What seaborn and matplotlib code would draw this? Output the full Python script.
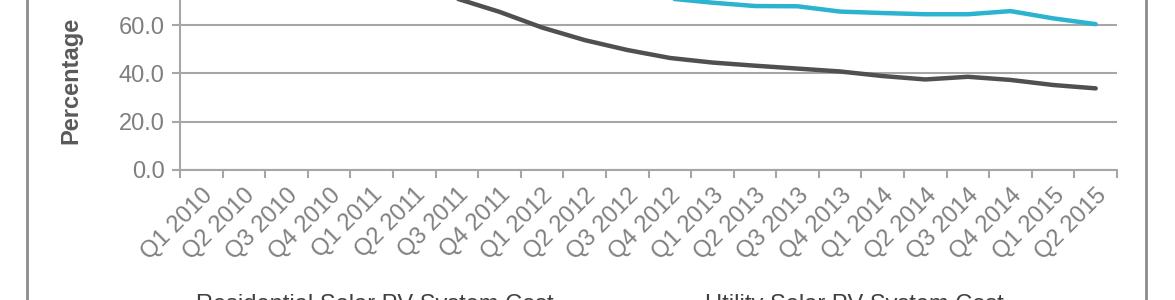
import numpy as np
import pandas as pd
import matplotlib
matplotlib.use("Agg")
import matplotlib.pyplot as plt
from matplotlib.lines import Line2D
import seaborn as sns

quarters = ["Q1 2010", "Q2 2010", "Q3 2010", "Q4 2010", "Q1 2011", "Q2 2011",
            "Q3 2011", "Q4 2011", "Q1 2012", "Q2 2012", "Q3 2012", "Q4 2012",
            "Q1 2013", "Q2 2013", "Q3 2013", "Q4 2013", "Q1 2014", "Q2 2014",
            "Q3 2014", "Q4 2014", "Q1 2015", "Q2 2015"]
residential = [100.0, 97.0, 93.0, 89.0, 85.0, 78.0, 71.0, 65.5, 59.0, 53.8, 49.7,
               46.4, 44.5, 43.2, 42.0, 40.8, 38.9, 37.5, 38.6, 37.3, 35.2, 33.8]
utility = [100.0, 97.0, 95.0, 92.0, 90.0, 87.0, 83.0, 79.0, 76.0, 74.0, 73.0,
           71.0, 69.3, 67.9, 67.8, 65.6, 65.0, 64.5, 64.5, 65.8, 62.8, 60.4]
series_names = ["Residential Solar PV System Cost", "Utility Solar PV System Cost"]
y_ticks = [0, 20, 40, 60]

df = pd.DataFrame({
    "Quarter": quarters * 2,
    "Value": residential + utility,
    "Series": [series_names[0]] * len(quarters) + [series_names[1]] * len(quarters),
})

sns.set_theme(style="white")
plt.rcParams["font.family"] = ["Liberation Sans", "DejaVu Sans"]

W, H = 1175, 300
fig = plt.figure(figsize=(W / 100, H / 100), dpi=100)
ax = fig.add_axes([180 / W, 130 / H, (1117 - 180) / W, 170 / H])

palette = {series_names[0]: "#505050", series_names[1]: "#2bb3cf"}
sns.lineplot(data=df, x="Quarter", y="Value", hue="Series", palette=palette,
             sort=False, linewidth=3.2, ax=ax)

grid_c = "#a6a6a6"
fs = 17
ax.set_xlim(-0.5, len(quarters) - 0.5)
ax.set_ylim(0, 70.4)
ax.set_yticks(y_ticks)
ax.set_yticklabels([f"{v:.1f}" for v in y_ticks])
ax.yaxis.grid(True, color=grid_c, linewidth=1.5)
ax.set_axisbelow(True)
for s in ["top", "right"]:
    ax.spines[s].set_visible(False)
for s in ["left", "bottom"]:
    ax.spines[s].set_color(grid_c)
    ax.spines[s].set_linewidth(1.5)

ax.set_xticks(range(len(quarters)))
ax.set_xticklabels(quarters, rotation=45, ha="right", va="top", rotation_mode="anchor")
ax.set_xticks(np.arange(-0.5, len(quarters), 1.0), minor=True)
ax.tick_params(axis="x", which="major", length=0, pad=10, labelsize=fs, labelcolor="#7f7f7f")
ax.tick_params(axis="x", which="minor", length=6, width=1.5, color=grid_c, bottom=True)
ax.tick_params(axis="y", length=6, width=1.5, color=grid_c, left=True, labelsize=fs,
               labelcolor="#7f7f7f", pad=5)

ax.set_xlabel("")
ax.set_ylabel("Percentage", fontsize=fs, fontweight="bold", color="#595959")
ax.yaxis.set_label_coords(-0.1046, 0.53)

handles, labels = ax.get_legend_handles_labels()
ax.get_legend().remove()
fig.legend(handles, labels, loc="upper left", bbox_to_anchor=(118 / W, 6 / H),
           ncol=2, frameon=False, fontsize=fs, handlelength=3.0, handletextpad=0.3,
           columnspacing=3.1, labelcolor="#404040", borderaxespad=0, borderpad=0)

frame_c = "#8c8c8c"
fig.add_artist(Line2D([27 / W, 27 / W], [0, 1], color=frame_c, linewidth=2,
                      transform=fig.transFigure))
fig.add_artist(Line2D([1146 / W, 1146 / W], [0, 1], color=frame_c, linewidth=2,
                      transform=fig.transFigure))

fig.savefig("out.png", dpi=100)
